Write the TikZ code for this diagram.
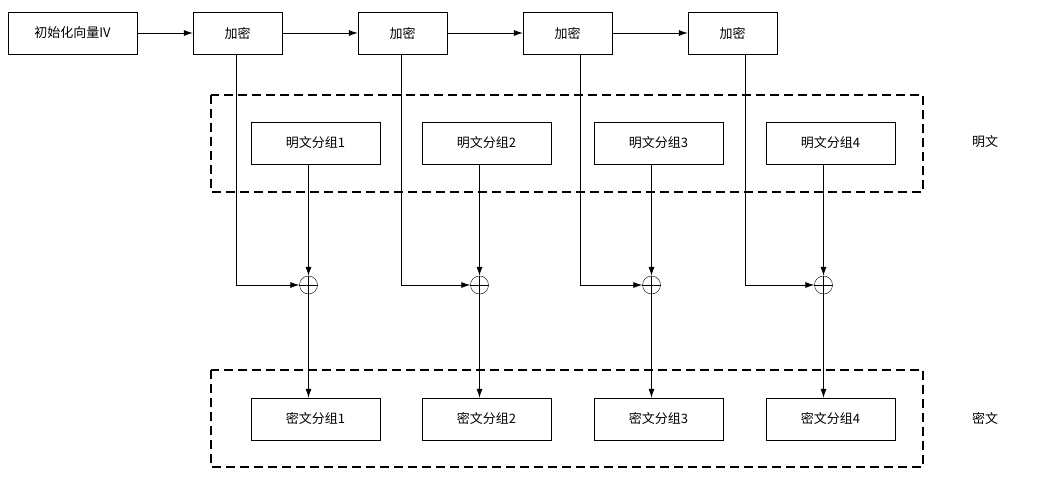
\documentclass[tikz,border=0pt]{standalone}
\usepackage{fontspec}
\setmainfont{Noto Sans CJK SC}
\usetikzlibrary{arrows.meta}
\begin{document}
\begin{tikzpicture}[x=1pt,y=-1pt,
 box/.style={draw,minimum width=129pt,minimum height=42pt,inner sep=0pt,font=\fontsize{13}{15}\selectfont},
 enc/.style={draw,minimum width=89pt,minimum height=42pt,inner sep=0pt,font=\fontsize{13}{15}\selectfont},
 xor/.style={draw,circle,minimum size=18pt,inner sep=0pt},
 arr/.style={-{Latex[length=9pt,width=6pt]},line width=0.8pt},
 dbox/.style={draw,line width=1.2pt,dash pattern=on 9pt off 5pt}]
\useasboundingbox (0,0) rectangle (1038,498);
\node[box] (iv) at (72.5,33) {初始化向量IV};
\foreach \i/\x in {1/237.5,2/402.5,3/567.5,4/732.5}{
  \node[enc] (e\i) at (\x,33) {加密};}
\draw[dbox] (211,95) rectangle (923,192);
\draw[dbox] (211,370) rectangle (923,467);
\foreach \i/\x in {1/315.5,2/486.5,3/658.5,4/830.5}{
  \node[box] (p\i) at (\x,143) {明文分组\i};
  \node[box] (c\i) at (\x,419) {密文分组\i};
  \node[xor] (x\i) at (\x-7,285) {};
  \draw (x\i.north)--(x\i.south) (x\i.west)--(x\i.east);
  \draw[arr] (p\i.south -| x\i) -- (x\i);
  \draw[arr] (x\i) -- (c\i.north -| x\i);
}
\foreach \i/\lx in {1/236,2/401,3/580,4/745}{
  \coordinate (k\i) at (\lx,285);
  \draw[arr] (e\i.south -| k\i) -- (k\i) -- (x\i);
}
\draw[arr] (iv) -- (e1);
\draw[arr] (e1) -- (e2);
\draw[arr] (e2) -- (e3);
\draw[arr] (e3) -- (e4);
\node[font=\fontsize{13}{15}\selectfont] (lp) at (985,142) {明文};
\node[font=\fontsize{13}{15}\selectfont] (lc) at (985,418) {密文};
\end{tikzpicture}
\end{document}
